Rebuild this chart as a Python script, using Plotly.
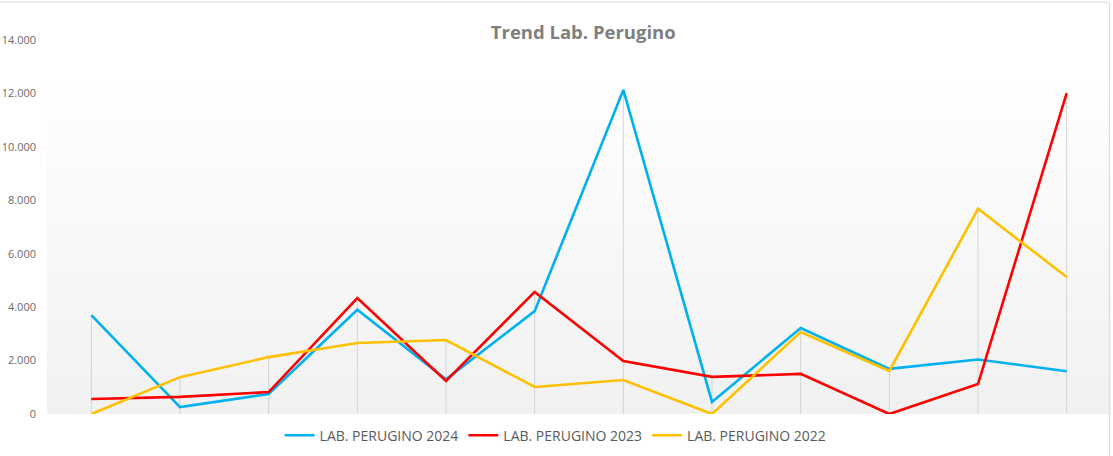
import plotly.graph_objects as go

categories = [str(i) for i in range(1, 13)]
lab_2024 = [3700, 260, 750, 3900, 1300, 3850, 12130, 450, 3220, 1690, 2040, 1600]
lab_2023 = [560, 640, 820, 4340, 1240, 4570, 1980, 1390, 1500, 0, 1120, 12010]
lab_2022 = [0, 1380, 2130, 2660, 2770, 1010, 1270, 0, 3070, 1610, 7680, 5130]
series_names = ["LAB. PERUGINO 2024", "LAB. PERUGINO 2023", "LAB. PERUGINO 2022"]
series_colors = ["#00B0F0", "#FF0000", "#FFC000"]
y_ticks = [0, 2000, 4000, 6000, 8000, 10000, 12000, 14000]

fig = go.Figure()

# gradient plot-area background (Excel-like)
n_bands = 40
top_val = 12400
for i in range(n_bands):
    y0 = top_val * i / n_bands
    y1 = top_val * (i + 1) / n_bands
    t = i / (n_bands - 1)
    g = int(round(241 + (254 - 241) * t))
    fig.add_shape(type="rect", xref="paper", yref="y", x0=0, x1=1, y0=y0, y1=y1,
                  fillcolor=f"rgb({g},{g},{g})", line_width=0, layer="below")

# drop lines from the highest value in each category to the axis
dx, dy = [], []
for c, a, b, d in zip(categories, lab_2024, lab_2023, lab_2022):
    dx += [c, c, None]
    dy += [0, max(a, b, d), None]
fig.add_trace(go.Scatter(x=dx, y=dy, mode="lines", line=dict(color="#d4d4d4", width=1),
                         showlegend=False, hoverinfo="skip"))

for name, vals, col in zip(series_names, [lab_2024, lab_2023, lab_2022], series_colors):
    fig.add_trace(go.Scatter(x=categories, y=vals, mode="lines", name=name,
                             line=dict(color=col, width=2.6)))

fig.update_layout(
    width=1113, height=456,
    margin=dict(l=47, r=2, t=40, b=42),
    paper_bgcolor="white", plot_bgcolor="white",
    separators=",.",
    title=dict(text="<b>Trend Lab. Perugino</b>", xref="paper", x=0.504, xanchor="center",
               y=1 - 33 / 456, yanchor="middle",
               font=dict(family="Open Sans", size=18.5, color="#7f7f7f")),
    font=dict(family="Open Sans", color="#595959"),
    xaxis=dict(type="category", categoryarray=categories, showticklabels=False,
               range=[-0.5, 11.5],
               showgrid=False, zeroline=False, showline=False, ticks=""),
    yaxis=dict(range=[0, 14000], tickvals=y_ticks, tickformat=",d", showgrid=False,
               zeroline=False, showline=False, ticks="", ticklabelstandoff=10,
               tickfont=dict(size=11, color="#6b6b6b")),
    legend=dict(orientation="h", x=0.478, xanchor="center", y=-0.015, yanchor="top",
                font=dict(size=14, color="#595959"), itemwidth=30,
                bgcolor="rgba(0,0,0,0)"),
    showlegend=True,
)

# chart border (top and right visible)
fig.add_shape(type="line", xref="paper", yref="paper", x0=-0.05, x1=0.9985,
              y0=1 + 38 / 374, y1=1 + 38 / 374, line=dict(color="#d9d9d9", width=1))
fig.add_shape(type="line", xref="paper", yref="paper", x0=0.9985, x1=0.9985,
              y0=-0.2, y1=1 + 38 / 374, line=dict(color="#d9d9d9", width=1))

fig.write_html("out.html", config={"displayModeBar": False},
               post_script="document.body.style.margin='0';")
